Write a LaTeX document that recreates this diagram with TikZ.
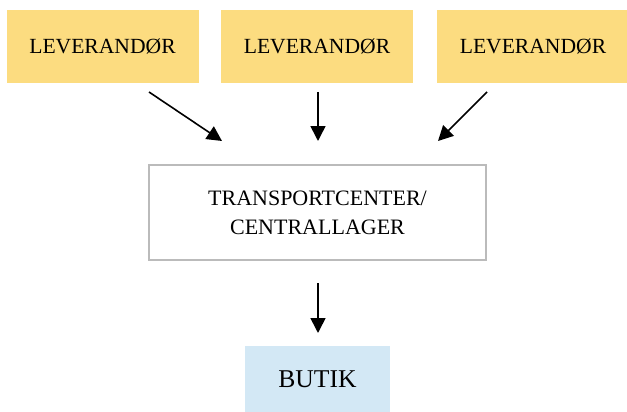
\documentclass[tikz,border=0pt]{standalone}
\usepackage{fontspec}
\setmainfont{Liberation Serif}
\usetikzlibrary{arrows.meta}
\definecolor{supyellow}{HTML}{FCDC80}
\definecolor{shopblue}{HTML}{D3E8F5}
\definecolor{hubgray}{HTML}{BBBBBB}
\begin{document}
\begin{tikzpicture}[x=1pt,y=-1pt,
  supbox/.style={fill=supyellow,draw=none,minimum width=192pt,minimum height=73pt,inner sep=0pt,font=\fontsize{21.6}{26}\selectfont},
  hubbox/.style={draw=hubgray,line width=1.5pt,fill=white,minimum width=337pt,minimum height=95pt,inner sep=0pt,align=center,font=\fontsize{22}{29}\selectfont},
  shopbox/.style={fill=shopblue,draw=none,minimum width=145pt,minimum height=66pt,inner sep=0pt,font=\fontsize{25.6}{30}\selectfont},
  flow/.style={line width=1.6pt,-{Triangle[length=15pt,width=15pt]}}]
\useasboundingbox (0,0) rectangle (627,412);
\node[supbox] (s1) at (102.5,46.5) {LEVERANDØR};
\node[supbox] (s2) at (317,46.5) {LEVERANDØR};
\node[supbox] (s3) at (533,46.5) {LEVERANDØR};
\node[hubbox] (hub) at (317.5,212.5) {TRANSPORTCENTER/\\CENTRALLAGER};
\node[shopbox] (shop) at (317.5,379) {BUTIK};
\coordinate (a1s) at (149,92);
\coordinate (a1e) at (222,141);
\coordinate (a2s) at (318,92);
\coordinate (a2e) at (318,141);
\coordinate (a3s) at (487,92);
\coordinate (a3e) at (438,141);
\coordinate (a4s) at (318,283);
\coordinate (a4e) at (318,333);
\draw[flow] (a1s) -- (a1e);
\draw[flow] (a2s) -- (a2e);
\draw[flow] (a3s) -- (a3e);
\draw[flow] (a4s) -- (a4e);
\end{tikzpicture}
\end{document}
